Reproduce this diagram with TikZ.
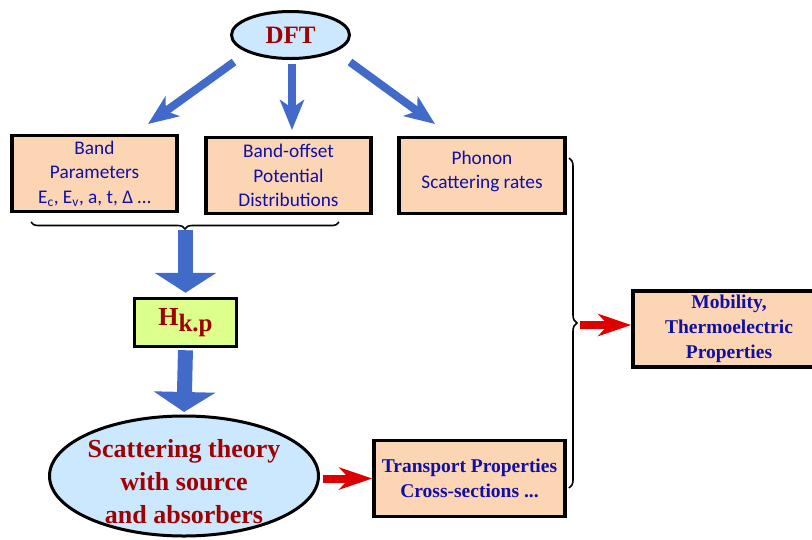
\documentclass[tikz,border=0pt]{standalone}
\usepackage{fontspec}
\setmainfont{Liberation Serif}
\newfontfamily\calib{Carlito}
\usetikzlibrary{arrows.meta,decorations.pathreplacing,shapes.geometric}
\definecolor{peach}{RGB}{252,213,181}
\definecolor{lblue}{RGB}{204,232,255}
\definecolor{lgreen}{RGB}{221,255,140}
\definecolor{dred}{RGB}{160,0,0}
\definecolor{txtblue}{RGB}{16,16,165}
\definecolor{arrblue}{RGB}{66,106,200}
\definecolor{arrred}{RGB}{220,0,0}
\tikzset{
  pbox/.style={draw=black, line width=3.5pt, fill=peach, inner sep=0pt, align=center},
  topbox/.style={pbox, minimum width=165pt, minimum height=76pt, text=txtblue,
    font=\calib\fontsize{19.3}{24.5}\selectfont},
  boldbox/.style={pbox, minimum width=191pt, minimum height=76pt, text=txtblue,
    font=\bfseries\fontsize{19.5}{25}\selectfont},
  ell/.style={draw=black, line width=3pt, fill=lblue, ellipse, inner sep=0pt},
  thinarrow/.style={draw=arrblue, line width=8pt, -{Stealth[length=30pt, width=24pt, inset=8pt]}, fill=arrblue},
  bigarrow/.style={draw=arrblue, line width=15pt, -{Triangle[length=20pt, width=61pt]}, fill=arrblue},
  redarrow/.style={draw=arrred, line width=8pt, -{Stealth[length=33pt, width=22pt, inset=10pt]}, fill=arrred},
  bracestyle/.style={draw=black, line width=1.6pt, decorate},
}
\begin{document}
\begin{tikzpicture}[x=1pt, y=-1pt]
\useasboundingbox (0,0) rectangle (812,539);
\clip (0,0) rectangle (812,539);

% nodes
\node[ell, minimum width=118pt, minimum height=47pt] (dft) at (290.5,35) {};
\node[text=dred, font=\bfseries\fontsize{25}{30}\selectfont] (dftt) at (dft.center) {DFT};

\node[topbox] (box1) at (94.5,173.5) {Band\\Parameters\\E\textsubscript{c}, E\textsubscript{v}, a, t, Δ …};
\node[topbox] (box2) at (288.5,175.5) {Band-offset\\Potential\\Distributions};
\node[topbox, minimum width=166pt] (box3) at (482,175.5) {Phonon\\Scattering rates\\[-13.5pt]\mbox{}};

\node[draw=black, line width=3.5pt, fill=lgreen, minimum width=102pt, minimum height=48pt, inner sep=0pt,
  text=dred, font=\bfseries\fontsize{26}{30}\selectfont] (hkp) at (185.5,322.5)
  {H\raisebox{-6pt}{\fontsize{25}{28}\selectfont k.p}};

\node[ell, minimum width=269pt, minimum height=120pt] (scat) at (184,476) {};
\node[text=dred, align=center, font=\bfseries\fontsize{26}{33}\selectfont] (scatt) at (184,482)
  {Scattering theory\\with source\\and absorbers};

\node[boldbox] (trans) at (469.5,478.5) {Transport Properties\\Cross-sections ...};
\node[boldbox, minimum width=192pt] (mob) at (729,329) {Mobility,\\Thermoelectric\\Properties};

% arrows from DFT
\draw[thinarrow] ([shift={(-56.5,27)}]dft.center) -- ([shift={(53.5,-49.5)}]box1.center);
\draw[thinarrow] ([shift={(1.5,29)}]dft.center) -- ([shift={(3.5,-45.5)}]box2.center);
\draw[thinarrow] ([shift={(59.5,27)}]dft.center) -- ([shift={(-47,-51.5)}]box3.center);

% braces
\draw[bracestyle, decoration={brace, amplitude=7pt}] (339,222) -- (31,222);
\coordinate (bt) at (185.5,230);
\draw[bracestyle, decoration={brace, amplitude=8pt}] (569,158) -- (569,488);
\coordinate (rb) at (580,325);

% big arrows
\draw[bigarrow, shorten >=4pt] (bt) -- (hkp.north);
\draw[bigarrow, shorten <=2pt, shorten >=2.5pt] (hkp.south) -- (scat.north);

% red arrows
\draw[redarrow] ([xshift=3pt]scat.east |- trans.west) -- (trans.west);
\draw[redarrow] (rb) -- (rb -| mob.west);
\end{tikzpicture}
\end{document}
